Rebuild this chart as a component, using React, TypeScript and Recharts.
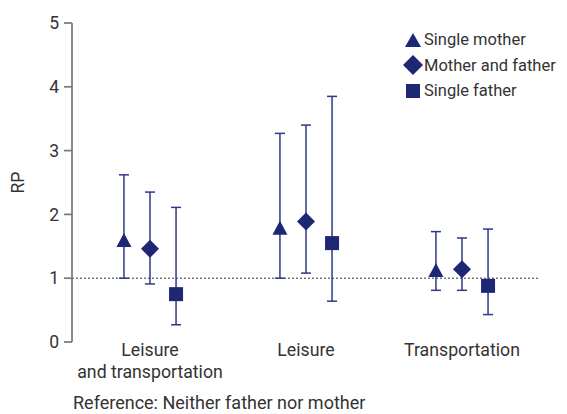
import React from "react";
import {
  ScatterChart,
  Scatter,
  XAxis,
  YAxis,
  ErrorBar,
  ReferenceLine,
} from "recharts";

const categories = ["Leisure\nand transportation", "Leisure", "Transportation"];
const yTicks = [0, 1, 2, 3, 4, 5];

const singleMother = [1.6, 1.79, 1.13];
const singleMotherLow = [1.0, 1.0, 0.81];
const singleMotherHigh = [2.62, 3.27, 1.73];

const motherFather = [1.46, 1.89, 1.14];
const motherFatherLow = [0.91, 1.08, 0.81];
const motherFatherHigh = [2.35, 3.4, 1.63];

const singleFather = [0.75, 1.55, 0.88];
const singleFatherLow = [0.27, 0.64, 0.43];
const singleFatherHigh = [2.11, 3.85, 1.77];

const NAVY = "#1d2774";
const BAR = "#2f3986";
const FONT = "Roboto, sans-serif";
const SHIFT = 0.167; // series offset inside a category, in category units

function build(vals: number[], lo: number[], hi: number[]) {
  return vals.map((v, i) => ({
    x: i,
    value: v,
    err: [v - lo[i], hi[i] - v],
  }));
}

const triData = build(singleMother, singleMotherLow, singleMotherHigh);
const diaData = build(motherFather, motherFatherLow, motherFatherHigh);
const sqData = build(singleFather, singleFatherLow, singleFatherHigh);

const Triangle = (p: any) => (
  <polygon
    points={`${p.cx},${p.cy - 7} ${p.cx + 7.5},${p.cy + 7} ${p.cx - 7.5},${p.cy + 7}`}
    fill={NAVY}
  />
);
const Diamond = (p: any) => (
  <polygon
    points={`${p.cx},${p.cy - 9} ${p.cx + 9},${p.cy} ${p.cx},${p.cy + 9} ${p.cx - 9},${p.cy}`}
    fill={NAVY}
  />
);
const Square = (p: any) => (
  <rect x={p.cx - 7} y={p.cy - 7} width={14} height={14} fill={NAVY} />
);

const CategoryTick = (p: any) => {
  const lines = categories[p.payload.value].split("\n");
  return (
    <text x={p.x} y={p.y} textAnchor="middle" fill="#333" fontSize={17.7} fontFamily={FONT}>
      {lines.map((l, i) => (
        <tspan key={i} x={p.x} dy={i === 0 ? 11.5 : 22.5}>
          {l}
        </tspan>
      ))}
    </text>
  );
};

const legendItems = [
  { label: "Single mother", shape: "tri" },
  { label: "Mother and father", shape: "dia" },
  { label: "Single father", shape: "sq" },
];

function LegendIcon({ shape }: { shape: string }) {
  return (
    <svg width={20} height={20} style={{ display: "block" }}>
      {shape === "tri" && <polygon points="10,3 18,17 2,17" fill={NAVY} />}
      {shape === "dia" && <polygon points="10,0 20,10 10,20 0,10" fill={NAVY} />}
      {shape === "sq" && <rect x={3} y={3} width={14} height={14} fill={NAVY} />}
    </svg>
  );
}

export default function App() {
  return (
    <div style={{ position: "absolute", left: 0, top: 0, width: 567, height: 414, background: "#fff" }}>
      <ScatterChart width={567} height={414} margin={{ top: 23, right: 27, bottom: 32, left: 0 }}>
        <XAxis
          xAxisId="dia"
          type="number"
          dataKey="x"
          domain={[-0.5, 2.5]}
          ticks={[0, 1, 2]}
          axisLine={false}
          tickLine={false}
          tickSize={0}
          height={40}
          interval={0}
          tick={<CategoryTick />}
        />
        <XAxis xAxisId="tri" type="number" dataKey="x" domain={[-0.5 + SHIFT, 2.5 + SHIFT]} hide />
        <XAxis xAxisId="sq" type="number" dataKey="x" domain={[-0.5 - SHIFT, 2.5 - SHIFT]} hide />
        <YAxis
          type="number"
          dataKey="value"
          domain={[0, 5]}
          ticks={yTicks}
          width={72}
          tickSize={8}
          tickMargin={5}
          axisLine={{ stroke: "#777", strokeWidth: 1.7 }}
          tickLine={{ stroke: "#777", strokeWidth: 1.7 }}
          tick={{ fill: "#333", fontSize: 17.5, fontFamily: FONT }}
          label={{
            content: (props: any) => {
              const vb = props.viewBox;
              const cx = 18;
              const cy = vb.y + vb.height / 2;
              return (
                <text
                  x={cx}
                  y={cy}
                  transform={`rotate(-90, ${cx}, ${cy})`}
                  textAnchor="middle"
                  dominantBaseline="central"
                  fill="#333"
                  fontSize={17.5}
                  fontFamily={FONT}
                >
                  RP
                </text>
              );
            },
          }}
        />
        <ReferenceLine xAxisId="dia" y={1} stroke="#333" strokeDasharray="2 2" />
        <Scatter xAxisId="tri" data={triData} shape={Triangle} isAnimationActive={false}>
          <ErrorBar dataKey="err" direction="y" width={5} stroke={BAR} strokeWidth={1.5} />
        </Scatter>
        <Scatter xAxisId="dia" data={diaData} shape={Diamond} isAnimationActive={false}>
          <ErrorBar dataKey="err" direction="y" width={5} stroke={BAR} strokeWidth={1.5} />
        </Scatter>
        <Scatter xAxisId="sq" data={sqData} shape={Square} isAnimationActive={false}>
          <ErrorBar dataKey="err" direction="y" width={5} stroke={BAR} strokeWidth={1.5} />
        </Scatter>
      </ScatterChart>
      <div style={{ position: "absolute", left: 403, top: 27, fontFamily: FONT, fontSize: 16.5, color: "#333" }}>
        {legendItems.map((it) => (
          <div key={it.label} style={{ display: "flex", alignItems: "center", height: 25.5, gap: 1 }}>
            <LegendIcon shape={it.shape} />
            <span>{it.label}</span>
          </div>
        ))}
      </div>
      <div style={{ position: "absolute", left: 73, top: 392, fontFamily: FONT, fontSize: 18, color: "#333" }}>
        Reference: Neither father nor mother
      </div>
    </div>
  );
}
